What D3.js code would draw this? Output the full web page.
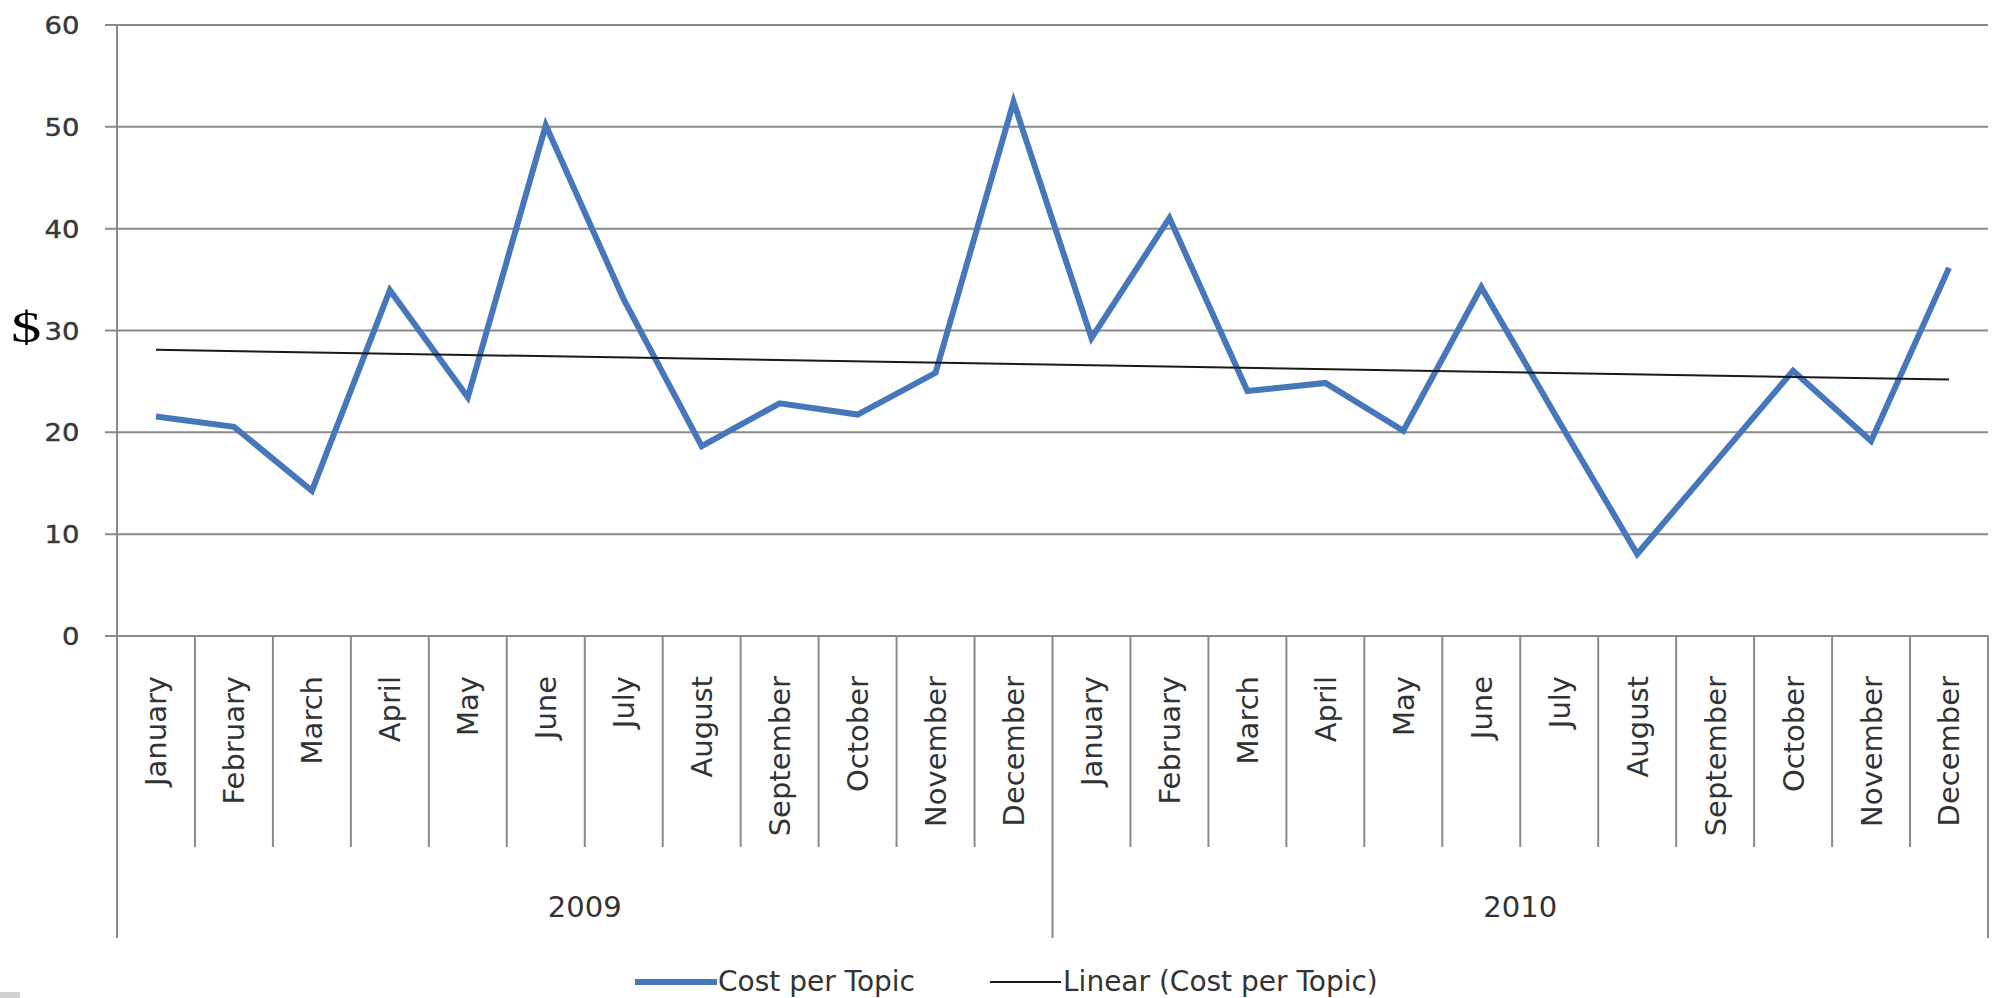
<!DOCTYPE html>
<html>
<head>
<meta charset="utf-8">
<script src="https://cdn.jsdelivr.net/npm/d3@7"></script>
<style>
  html, body { margin: 0; padding: 0; background: #fff; }
  svg { display: block; }
</style>
</head>
<body>
<svg id="chart"></svg>
<script>
const months = ["January", "February", "March", "April", "May", "June",
  "July", "August", "September", "October", "November", "December"]
const years = ["2009", "2010"]
const cost2009 = [21.5, 20.5, 14.2, 33.9, 23.4, 50.1, 33.0, 18.6, 22.8, 21.7, 25.8, 52.4]
const cost2010 = [29.2, 41.0, 24.0, 24.8, 20.1, 34.2, 21.0, 8.0, 17.0, 26.0, 19.1, 36.1]
const yTicks = [0, 10, 20, 30, 40, 50, 60]
const seriesName = "Cost per Topic"
const trendName = "Linear (Cost per Topic)"

const width = 1997
const height = 998
const plot = { left: 117, right: 1988, top: 24.5, bottom: 635.5 }
const monthRowBottom = 847
const yearRowBottom = 938

const blue = "#4677ba"
const gridColor = "#8a8a8a"
const font = "'DejaVu Sans', sans-serif"

// one row per month, both years
const data = []
years.forEach((yr, yi) => {
  const vals = yi === 0 ? cost2009 : cost2010
  months.forEach((m, mi) => data.push({ year: yr, month: m, value: vals[mi], i: yi * 12 + mi }))
})

const svg = d3.select("#chart")
  .attr("width", width)
  .attr("height", height)

const xScale = d3.scaleBand()
  .domain(data.map(d => d.i))
  .range([plot.left, plot.right])
  .paddingInner(0)
  .paddingOuter(0)

const xc = i => xScale(i) + xScale.bandwidth() / 2

const yScale = d3.scaleLinear()
  .domain([0, 60])
  .range([plot.bottom, plot.top])

// gridlines + y ticks
const yAxis = svg.append("g")
  .attr("transform", `translate(${plot.left}, 0)`)
  .call(d3.axisLeft(yScale)
    .tickValues(yTicks)
    .tickSize(-(plot.right - plot.left))
    .tickPadding(34)
    .tickSizeOuter(0))

yAxis.select(".domain").remove()
yAxis.selectAll(".tick line")
  .attr("x1", -12)
  .attr("stroke", gridColor)
  .attr("stroke-width", 2)
yAxis.selectAll(".tick text")
  .attr("font-family", font)
  .attr("font-size", 25)
  .attr("fill", "#383838")
  .attr("stroke", "#383838")
  .attr("stroke-width", 0.4)
  .attr("dy", "0.36em")
  .attr("transform", "scale(1.1,1)")

// $ axis title
svg.append("text")
  .attr("x", 0)
  .attr("y", 0)
  .attr("transform", `translate(11, 342) scale(1.35,1)`)
  .attr("font-family", "'Liberation Serif', serif")
  .attr("font-size", 45)
  .attr("fill", "#000")
  .text("$")

// vertical axis line
svg.append("line")
  .attr("x1", plot.left).attr("x2", plot.left)
  .attr("y1", plot.top).attr("y2", yearRowBottom)
  .attr("stroke", gridColor).attr("stroke-width", 2)

// category separators
const seps = d3.range(1, data.length + 1)
svg.append("g")
  .selectAll("line")
  .data(seps)
  .join("line")
  .attr("x1", k => k < data.length ? xScale(k) : plot.right)
  .attr("x2", k => k < data.length ? xScale(k) : plot.right)
  .attr("y1", plot.bottom)
  .attr("y2", k => (k % 12 === 0) ? yearRowBottom : monthRowBottom)
  .attr("stroke", gridColor)
  .attr("stroke-width", 2)

// month labels
svg.append("g")
  .selectAll("text")
  .data(data)
  .join("text")
  .attr("transform", d => `translate(${xc(d.i)}, 676) rotate(-90)`)
  .attr("text-anchor", "end")
  .attr("dy", "0.36em")
  .attr("font-family", font)
  .attr("font-size", 29)
  .attr("fill", "#333")
  .text(d => d.month)

// year labels
svg.append("g")
  .selectAll("text")
  .data(years)
  .join("text")
  .attr("x", (yr, yi) => (xScale(yi * 12) + xScale(yi * 12 + 11) + xScale.bandwidth()) / 2)
  .attr("y", 917)
  .attr("text-anchor", "middle")
  .attr("font-family", font)
  .attr("font-size", 29)
  .attr("fill", "#333")
  .text(d => d)

// linear trend (least squares over the 24 points)
const n = data.length
const mx = d3.mean(data, d => d.i)
const my = d3.mean(data, d => d.value)
const slope = d3.sum(data, d => (d.i - mx) * (d.value - my)) / d3.sum(data, d => (d.i - mx) ** 2)
const trend = [data[0], data[n - 1]].map(d => ({ i: d.i, value: my + slope * (d.i - mx) }))

svg.append("path")
  .datum(data)
  .attr("fill", "none")
  .attr("stroke", blue)
  .attr("stroke-width", 6)
  .attr("stroke-linejoin", "miter")
  .attr("d", d3.line().x(d => xc(d.i)).y(d => yScale(d.value)))

svg.append("path")
  .datum(trend)
  .attr("fill", "none")
  .attr("stroke", "#1a1a1a")
  .attr("stroke-width", 2)
  .attr("d", d3.line().x(d => xc(d.i)).y(d => yScale(d.value)))

// legend (kept just inside the bottom edge)
const legend = svg.append("g")
legend.append("line")
  .attr("x1", 635).attr("x2", 717).attr("y1", 982).attr("y2", 982)
  .attr("stroke", blue).attr("stroke-width", 6)
legend.append("text")
  .attr("x", 718).attr("y", 991)
  .attr("font-family", font).attr("font-size", 28).attr("fill", "#333")
  .text(seriesName)
legend.append("line")
  .attr("x1", 990).attr("x2", 1061).attr("y1", 982).attr("y2", 982)
  .attr("stroke", "#1a1a1a").attr("stroke-width", 2)
legend.append("text")
  .attr("x", 1063).attr("y", 991)
  .attr("font-family", font).attr("font-size", 28).attr("fill", "#333")
  .text(trendName)

// small grey corner artefact
svg.append("rect")
  .attr("x", 0).attr("y", 992).attr("width", 20).attr("height", 6)
  .attr("fill", "#d0d0d0")
</script>
</body>
</html>
